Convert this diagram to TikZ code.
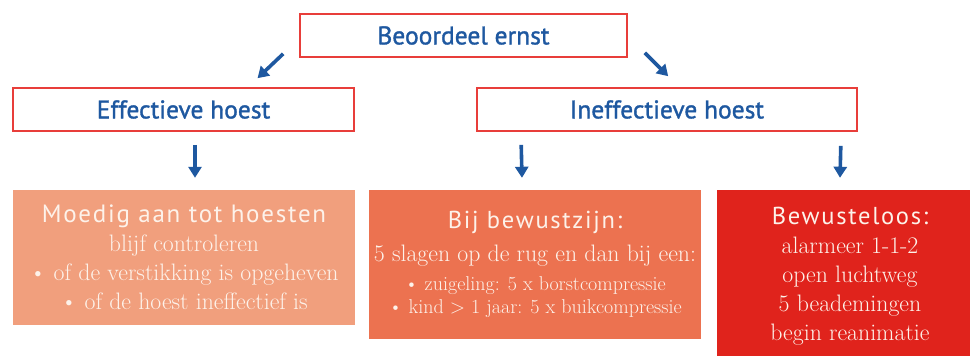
\documentclass[tikz,border=0pt]{standalone}
\usepackage{fontspec}
\setsansfont{PT Sans}
\newfontfamily\kopfont[LetterSpace=7]{PT Sans}
\newfontfamily\titelfont[FakeBold=1.3]{PT Sans}
\usetikzlibrary{positioning}
\usetikzlibrary{calc}
\usetikzlibrary{arrows.meta}
\definecolor{kopblauw}{RGB}{30,88,160}
\definecolor{randrood}{RGB}{232,62,58}
\definecolor{zalm}{RGB}{241,159,125}
\definecolor{oranje}{RGB}{236,114,80}
\definecolor{alarmrood}{RGB}{224,35,28}
\definecolor{roomwit}{RGB}{253,242,234}

\begin{document}
\begin{tikzpicture}[x=1pt,y=-1pt]
				\tikzset{kop/.style = {shape=rectangle, draw=randrood, line width=1.6pt, minimum height=43pt,
						text=kopblauw, font=\titelfont\fontsize{25.5}{28}\selectfont},
					vak/.style = {shape=rectangle, inner sep=0pt, align=center, text=roomwit,
						font=\fontsize{23.8}{29}\selectfont},
					pijl/.style = {draw=kopblauw, line width=3.6pt, -{Triangle[length=11pt,width=13pt]}}}
				\useasboundingbox (0,0) rectangle (970,356);
				% kopjes
				\node[kop, minimum width=327pt] (ernst) at (463.5,35.5) {Beoordeel ernst};
				\node[kop, minimum width=341pt] (eff) at (183.5,109.5) {Effectieve hoest};
				\node[kop, minimum width=380pt] (ineff) at (667,109.5) {Ineffectieve hoest};
				% vakken
				\node[vak, fill=zalm, minimum width=342pt, minimum height=135pt] (hoesten) at (184,257.5)
				{{\kopfont\fontsize{25}{29}\selectfont Moedig aan tot hoesten}\\
					blijf controleren \\
					\textbullet{} of de verstikking is opgeheven \\
					\textbullet{} of de hoest ineffectief is};
				\node[vak, fill=oranje, minimum width=332pt, minimum height=149pt] (bewust) at (535,264.5)
				{{\kopfont\fontsize{24.5}{29}\selectfont Bij bewustzijn:}\\[4pt]
					5 slagen op de rug en dan bij een: \\
					{\fontsize{20}{23}\selectfont\addfontfeatures{LetterSpace=5}\textbullet{} zuigeling: 5 x borstcompressie} \\[-6pt]
					{\fontsize{20}{23}\selectfont\addfontfeatures{LetterSpace=5}\textbullet{} kind > 1 jaar: 5 x buikcompressie}};
				\node[vak, fill=alarmrood, minimum width=266pt, minimum height=172pt] (bewusteloos) at (850,276)
				{{\kopfont\fontsize{24.5}{29}\selectfont Bewusteloos:}\\
					alarmeer 1-1-2 \\
					open luchtweg \\
					5 beademingen \\
					begin reanimatie};
				% pijlen
				\draw[pijl] ($(ernst.south west)+(-16,-4)$) -- ($(eff.north)+(74,-9)$);
				\draw[pijl] ($(ernst.south east)+(17,-5)$) -- ($(ineff.north west)+(192,-11)$);
				\draw[pijl] ($(eff.south)+(11.5,13)$) -- ($(hoesten.north)+(11,-12)$);
				\draw[pijl] ($(ineff.south west)+(45,13)$) -- ($(bewust.north)+(-13,-12)$);
				\draw[pijl] ($(ineff.south east)+(-17,14)$) -- ($(bewusteloos.north)+(-10,-12)$);
				
				\end{tikzpicture}
\end{document}
